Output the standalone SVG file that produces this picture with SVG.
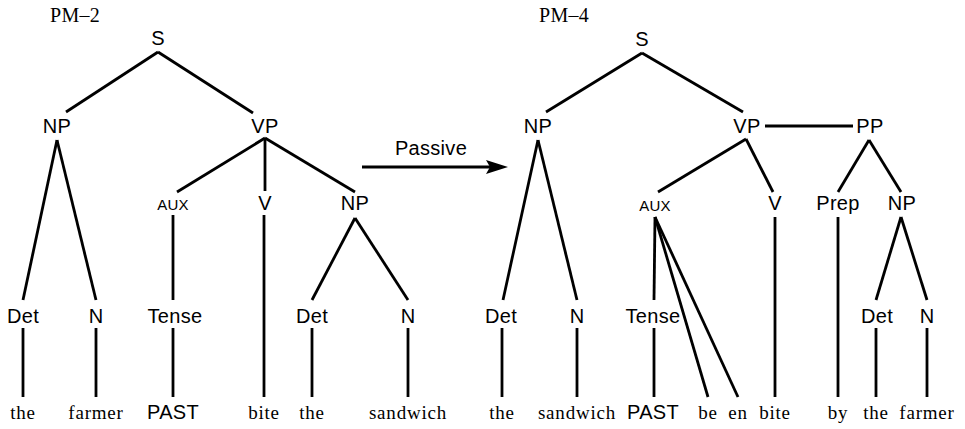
<svg xmlns="http://www.w3.org/2000/svg" width="965" height="429" viewBox="0 0 965 429">
  <style>
    .cat { font-family: "Liberation Sans", Arial, sans-serif; font-size: 20px; letter-spacing: 0.3px; text-anchor: middle; fill: #000; }
    .small { font-size: 15px; }
    .word { font-family: "Liberation Serif", "Times New Roman", serif; font-size: 19px; letter-spacing: 0.8px; text-anchor: middle; fill: #000; }
    .title { font-family: "Liberation Serif", "Times New Roman", serif; font-size: 20px; letter-spacing: 0.3px; fill: #000; }
    .edge { stroke: #000; stroke-width: 2.8; fill: none; stroke-linecap: butt; }
  </style>
  <rect width="965" height="429" fill="#fff"/>

  <!-- Titles -->
  <text class="title" x="50" y="22">PM–2</text>
  <text class="title" x="539" y="22">PM–4</text>

  <!-- Connectors -->
  <g id="connectors" class="edge">
    <!-- PM-2 -->
    <line x1="158" y1="52" x2="66" y2="112"/>
    <line x1="158" y1="52" x2="253" y2="113"/>
    <line x1="57" y1="140" x2="23" y2="300"/>
    <line x1="57" y1="140" x2="96" y2="300"/>
    <line x1="265" y1="138" x2="177" y2="192"/>
    <line x1="265" y1="138" x2="265" y2="191"/>
    <line x1="265" y1="138" x2="355" y2="192"/>
    <line x1="173" y1="215" x2="173" y2="300"/>
    <line x1="264" y1="215" x2="264" y2="397"/>
    <line x1="355" y1="218" x2="312" y2="300"/>
    <line x1="355" y1="218" x2="408" y2="300"/>
    <line x1="23" y1="328" x2="23" y2="397"/>
    <line x1="96" y1="328" x2="96" y2="397"/>
    <line x1="173" y1="328" x2="173" y2="397"/>
    <line x1="312" y1="328" x2="312" y2="397"/>
    <line x1="408" y1="328" x2="408" y2="397"/>
    <!-- PM-4 -->
    <line x1="642" y1="53" x2="546" y2="112"/>
    <line x1="642" y1="53" x2="743" y2="112"/>
    <line x1="765" y1="126" x2="853" y2="126"/>
    <line x1="538" y1="140" x2="503" y2="300"/>
    <line x1="538" y1="140" x2="577" y2="300"/>
    <line x1="746" y1="139" x2="658" y2="192"/>
    <line x1="746" y1="139" x2="773" y2="192"/>
    <line x1="869" y1="140" x2="838" y2="192"/>
    <line x1="869" y1="140" x2="901" y2="192"/>
    <line x1="655" y1="217" x2="654" y2="300"/>
    <line x1="655" y1="217" x2="708" y2="397"/>
    <line x1="655" y1="217" x2="738" y2="397"/>
    <line x1="775" y1="217" x2="775" y2="397"/>
    <line x1="838" y1="217" x2="838" y2="397"/>
    <line x1="901" y1="217" x2="876" y2="300"/>
    <line x1="901" y1="217" x2="927" y2="300"/>
    <line x1="502" y1="328" x2="502" y2="397"/>
    <line x1="577" y1="328" x2="577" y2="397"/>
    <line x1="654" y1="328" x2="654" y2="397"/>
    <line x1="876" y1="328" x2="876" y2="397"/>
    <line x1="927" y1="328" x2="927" y2="397"/>
  </g>

  <!-- Transformation arrow -->
  <g id="passive">
    <line x1="362" y1="167" x2="492" y2="167" stroke="#000" stroke-width="3"/>
    <polygon points="508,167 486,160 490,167 486,174" fill="#000"/>
    <text class="cat" x="431" y="155">Passive</text>
  </g>

  <!-- PM-2 nodes -->
  <g id="l-S"><text class="cat" x="158" y="45">S</text></g>
  <g id="l-NP"><text class="cat" x="57" y="133">NP</text></g>
  <g id="l-VP"><text class="cat" x="265" y="133">VP</text></g>
  <g id="l-AUX"><text class="cat small" x="173" y="210">AUX</text></g>
  <g id="l-V"><text class="cat" x="265" y="210">V</text></g>
  <g id="l-NP2"><text class="cat" x="355" y="210">NP</text></g>
  <g id="l-Det"><text class="cat" x="23" y="323">Det</text></g>
  <g id="l-N"><text class="cat" x="96" y="323">N</text></g>
  <g id="l-Tense"><text class="cat" x="175" y="323">Tense</text></g>
  <g id="l-Det2"><text class="cat" x="312" y="323">Det</text></g>
  <g id="l-N2"><text class="cat" x="408" y="323">N</text></g>
  <g id="l-the"><text class="word" x="23" y="419">the</text></g>
  <g id="l-farmer"><text class="word" x="96" y="419">farmer</text></g>
  <g id="l-PAST"><text class="cat" x="173" y="419">PAST</text></g>
  <g id="l-bite"><text class="word" x="264" y="419">bite</text></g>
  <g id="l-the2"><text class="word" x="312" y="419">the</text></g>
  <g id="l-sandwich"><text class="word" x="408" y="419">sandwich</text></g>

  <!-- PM-4 nodes -->
  <g id="r-S"><text class="cat" x="642" y="46">S</text></g>
  <g id="r-NP"><text class="cat" x="538" y="133">NP</text></g>
  <g id="r-VP"><text class="cat" x="747" y="133">VP</text></g>
  <g id="r-PP"><text class="cat" x="870" y="133">PP</text></g>
  <g id="r-AUX"><text class="cat small" x="655" y="211">AUX</text></g>
  <g id="r-V"><text class="cat" x="775" y="210">V</text></g>
  <g id="r-Prep"><text class="cat" x="838" y="210">Prep</text></g>
  <g id="r-NP2"><text class="cat" x="902" y="210">NP</text></g>
  <g id="r-Det"><text class="cat" x="501" y="323">Det</text></g>
  <g id="r-N"><text class="cat" x="577" y="323">N</text></g>
  <g id="r-Tense"><text class="cat" x="653" y="323">Tense</text></g>
  <g id="r-Det2"><text class="cat" x="877" y="323">Det</text></g>
  <g id="r-N2"><text class="cat" x="927" y="323">N</text></g>
  <g id="r-the"><text class="word" x="502" y="419">the</text></g>
  <g id="r-sandwich"><text class="word" x="577" y="419">sandwich</text></g>
  <g id="r-PAST"><text class="cat" x="653" y="419">PAST</text></g>
  <g id="r-be"><text class="word" x="708" y="419">be</text></g>
  <g id="r-en"><text class="word" x="738" y="419">en</text></g>
  <g id="r-bite"><text class="word" x="775" y="419">bite</text></g>
  <g id="r-by"><text class="word" x="838" y="419">by</text></g>
  <g id="r-the2"><text class="word" x="876" y="419">the</text></g>
  <g id="r-farmer"><text class="word" x="927" y="419">farmer</text></g>
</svg>
